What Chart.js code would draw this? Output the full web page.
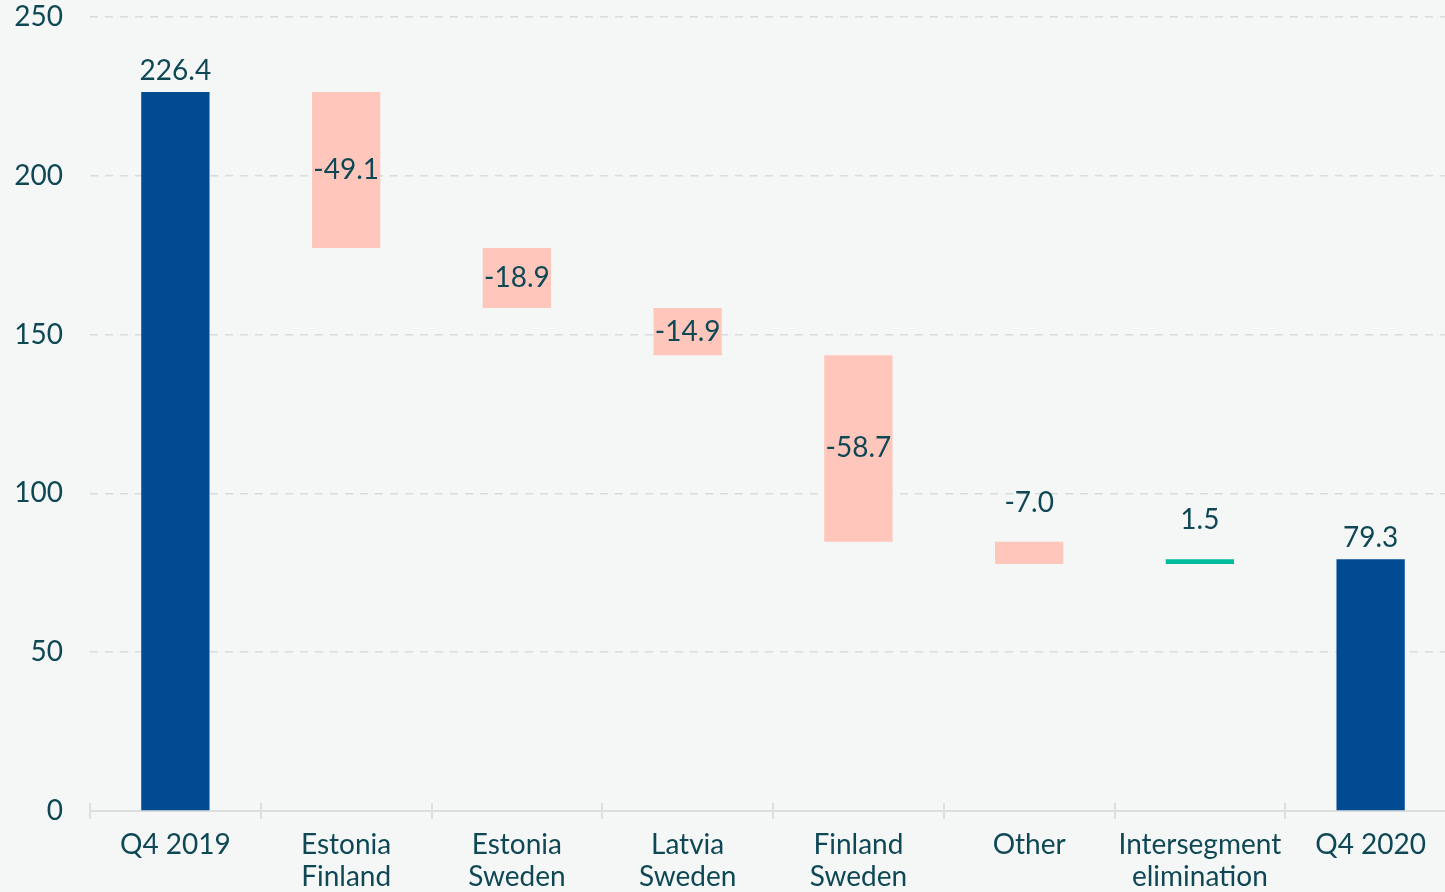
<!DOCTYPE html>
<html lang="en">
<head>
    <meta charset="UTF-8">
    <title>Q4 2019 to Q4 2020 bridge</title>
    <script src="https://cdn.jsdelivr.net/npm/chart.js"></script>
    <style>
        html, body { margin: 0; padding: 0; background: #f5f7f7; overflow: hidden; }
        #wrap { width: 1456px; height: 892px; }
    </style>
</head>
<body>
    <div id="wrap"><canvas id="bridgeChart"></canvas></div>

    <script>
        // Data
        var categories = [
            'Q4 2019', ['Estonia', 'Finland'], ['Estonia', 'Sweden'], ['Latvia', 'Sweden'],
            ['Finland', 'Sweden'], 'Other', ['Intersegment', 'elimination'], 'Q4 2020'
        ];
        var values = [226.4, -49.1, -18.9, -14.9, -58.7, -7.0, 1.5, 79.3];
        var isTotal = [true, false, false, false, false, false, false, true];
        var yTicks = [0, 50, 100, 150, 200, 250];

        var textColor = '#0f4855';
        var fontFamily = 'Lato, "Noto Sans", sans-serif';

        // floating bars for the waterfall
        var ranges = [];
        var running = 0;
        for (var i = 0; i < values.length; i++) {
            if (isTotal[i]) {
                ranges.push([0, values[i]]);
                running = values[i];
            } else {
                ranges.push([running, running + values[i]]);
                running = running + values[i];
            }
        }
        var colors = values.map(function (v, i) {
            if (isTotal[i]) return '#004b91';
            return v < 0 ? '#ffc6bb' : '#00bd9d';
        });

        // value labels: inside if the bar is tall enough, otherwise above
        var labelPlugin = {
            id: 'barLabels',
            afterDatasetsDraw: function (chart) {
                var ctx = chart.ctx;
                var meta = chart.getDatasetMeta(0);
                ctx.save();
                ctx.font = '28px ' + fontFamily;
                ctx.fillStyle = textColor;
                ctx.textAlign = 'center';
                meta.data.forEach(function (bar, i) {
                    var top = Math.min(bar.y, bar.base);
                    var h = Math.abs(bar.base - bar.y);
                    var txt = values[i].toFixed(1);
                    if (!isTotal[i] && h > 40) {
                        ctx.textBaseline = 'middle';
                        ctx.fillText(txt, bar.x, top + h / 2);
                    } else {
                        ctx.textBaseline = 'alphabetic';
                        ctx.fillText(txt, bar.x, top - (isTotal[i] ? 12 : 30));
                    }
                });
                ctx.restore();
            }
        };

        // small tick marks across the x axis at category boundaries
        var xTickPlugin = {
            id: 'xTicks',
            afterDraw: function (chart) {
                var x = chart.scales.x;
                var ctx = chart.ctx;
                var n = categories.length;
                var step = (x.right - x.left) / n;
                ctx.save();
                ctx.strokeStyle = '#dcdfdf';
                ctx.lineWidth = 2;
                for (var i = 0; i < n; i++) {
                    var px = Math.round(x.left + i * step);
                    ctx.beginPath();
                    ctx.moveTo(px, x.top - 8);
                    ctx.lineTo(px, x.top + 8);
                    ctx.stroke();
                }
                ctx.restore();
            }
        };

        var ctx = document.getElementById('bridgeChart').getContext('2d');
        var bridgeChart = new Chart(ctx, {
            type: 'bar',
            data: {
                labels: categories,
                datasets: [{
                    data: ranges,
                    backgroundColor: colors,
                    borderWidth: 0,
                    borderSkipped: false,
                    barPercentage: 0.4,
                    categoryPercentage: 1.0
                }]
            },
            options: {
                responsive: true,
                maintainAspectRatio: false,
                animation: false,
                layout: { padding: { top: 17, left: 0, right: 0, bottom: 0 } },
                plugins: {
                    legend: { display: false },
                    tooltip: { enabled: false }
                },
                scales: {
                    x: {
                        afterFit: function (scale) {
                            scale.height = 81;
                        },
                        grid: { display: false, offset: true },
                        border: { display: true, color: '#dcdfdf', width: 2 },
                        ticks: {
                            color: textColor,
                            font: { family: fontFamily, size: 28, lineHeight: 1.15 },
                            padding: 10,
                            maxRotation: 0,
                            autoSkip: false
                        }
                    },
                    y: {
                        min: 0,
                        max: 250,
                        afterBuildTicks: function (scale) {
                            scale.ticks = yTicks.map(function (v) { return { value: v }; });
                        },
                        afterFit: function (scale) {
                            scale.width = 90;
                            scale.paddingTop = 0;
                            scale.paddingBottom = 0;
                        },
                        grid: { color: '#d8dcdc', lineWidth: 1.5, drawTicks: false },
                        border: { display: false, dash: [8, 7] },
                        ticks: {
                            color: textColor,
                            font: { family: fontFamily, size: 28 },
                            padding: 27
                        }
                    }
                }
            },
            plugins: [labelPlugin, xTickPlugin]
        });
    </script>
</body>
</html>
